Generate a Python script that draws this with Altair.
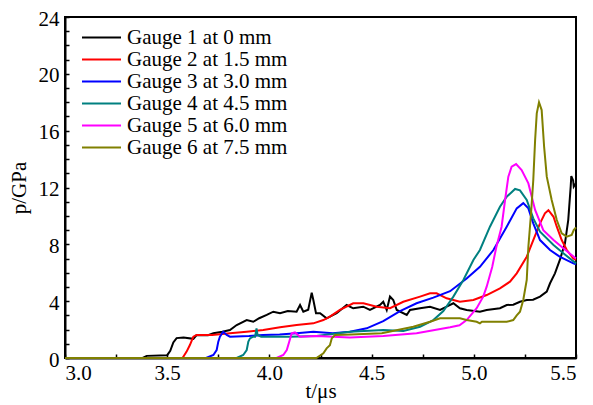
import altair as alt
import pandas as pd

labels = ["Gauge 1 at 0 mm", "Gauge 2 at 1.5 mm", "Gauge 3 at 3.0 mm",
          "Gauge 4 at 4.5 mm", "Gauge 5 at 6.0 mm", "Gauge 6 at 7.5 mm"]
colors = ["#000000", "#FF0000", "#0000FF", "#008080", "#FF00FF", "#808000"]

t1 = [3.0, 3.38, 3.40, 3.50, 3.515, 3.53, 3.546, 3.58, 3.628, 3.644, 3.70, 3.726, 3.77, 3.807,
      3.84, 3.889, 3.921, 3.95, 3.987, 4.019, 4.052, 4.09, 4.133, 4.15, 4.166, 4.19, 4.207, 4.215,
      4.228, 4.248, 4.28, 4.329, 4.378, 4.41, 4.459, 4.492, 4.541, 4.557, 4.574, 4.59, 4.606,
      4.623, 4.672, 4.688, 4.737, 4.786, 4.835, 4.867, 4.90, 4.932, 4.965, 5.03, 5.063, 5.128,
      5.161, 5.193, 5.226, 5.259, 5.29, 5.324, 5.357, 5.373, 5.397, 5.421, 5.446, 5.462, 5.474,
      5.477, 5.486, 5.489, 5.5]
p1 = [0, 0, 0.15, 0.2, 0.5, 1.1, 1.4, 1.45, 1.35, 1.62, 1.6, 1.74, 1.85, 1.97,
      2.32, 2.67, 2.55, 2.8, 3.03, 3.26, 3.15, 3.3, 3.26, 3.73, 3.26, 3.4, 4.6, 4.08,
      3.15, 3.15, 2.79, 3.15, 3.73, 3.5, 3.61, 3.38, 3.73, 3.96, 3.38, 4.32, 4.08,
      3.38, 3.03, 3.38, 3.5, 3.61, 3.38, 3.61, 3.85, 3.5, 3.38, 3.26, 3.38, 3.5,
      3.73, 3.75, 3.96, 4.08, 4.1, 4.32, 4.67, 5.26, 5.96, 6.9, 8.07, 9.71, 12.06,
      12.8, 12.5, 12.06, 12.3]

t2 = [3.0, 3.575, 3.595, 3.611, 3.628, 3.644, 3.72, 3.807, 3.889, 3.97, 4.052, 4.133, 4.215,
      4.264, 4.296, 4.345, 4.41, 4.46, 4.525, 4.59, 4.655, 4.737, 4.786, 4.818, 4.867, 4.932,
      4.998, 5.063, 5.128, 5.177, 5.21, 5.259, 5.291, 5.324, 5.348, 5.365, 5.39, 5.406, 5.43,
      5.455, 5.487, 5.5]
p2 = [0, 0, 0.45, 0.91, 1.5, 1.62, 1.62, 1.74, 1.85, 1.97, 2.16, 2.32, 2.44,
      2.67, 2.91, 3.38, 3.85, 3.85, 3.61, 3.5, 3.96, 4.32, 4.55, 4.55, 4.2, 3.96,
      4.08, 4.43, 4.9, 5.37, 5.96, 7.13, 8.3, 9.48, 10.18, 10.4, 9.94, 9.24, 8.3,
      7.6, 7.0, 6.9]

t3 = [3.0, 3.69, 3.726, 3.742, 3.75, 3.758, 3.774, 3.791, 3.807, 3.90, 3.97, 4.05, 4.133, 4.215,
      4.31, 4.394, 4.476, 4.557, 4.639, 4.72, 4.802, 4.884, 4.965, 5.03, 5.096, 5.161, 5.21,
      5.242, 5.267, 5.291, 5.324, 5.373, 5.42, 5.487, 5.5]
p3 = [0, 0, 0.21, 0.56, 1.15, 1.5, 1.85, 1.62, 1.5, 1.55, 1.62, 1.65, 1.74, 1.85,
      1.74, 1.85, 2.09, 2.6, 3.3, 3.85, 4.25, 4.7, 5.6, 6.42, 7.6, 9.24, 10.53,
      10.9, 10.53, 9.48, 8.3, 7.6, 7.13, 6.66, 6.6]

t4 = [3.0, 3.84, 3.872, 3.889, 3.897, 3.905, 3.921, 3.93, 3.937, 3.942, 3.96, 4.1, 4.23, 4.394,
      4.557, 4.655, 4.737, 4.802, 4.851, 4.9, 4.949, 4.998, 5.03, 5.079, 5.128, 5.161, 5.202,
      5.226, 5.259, 5.291, 5.324, 5.39, 5.438, 5.5]
p4 = [0, 0, 0.21, 0.56, 1.15, 1.38, 1.5, 1.5, 2.09, 1.62, 1.5, 1.5, 1.55, 1.85,
      1.97, 1.9, 2.2, 2.67, 3.3, 4.32, 5.49, 6.9, 7.6, 9.24, 10.65, 11.35, 11.9,
      11.8, 11.12, 9.83, 8.89, 7.95, 7.37, 6.66]

t5 = [3.0, 4.035, 4.068, 4.085, 4.097, 4.109, 4.125, 4.15, 4.23, 4.394, 4.557, 4.72, 4.884,
      4.93, 4.965, 5.014, 5.046, 5.063, 5.09, 5.11, 5.136, 5.153, 5.169, 5.185, 5.207, 5.234,
      5.267, 5.3, 5.34, 5.39, 5.438, 5.5]
p5 = [0, 0, 0.21, 0.56, 1.15, 1.74, 1.8, 1.5, 1.55, 1.45, 1.55, 1.74, 2.16,
      2.3, 2.67, 3.5, 4.32, 5.02, 6.4, 7.8, 9.24, 11.12, 12.76, 13.46, 13.65, 13.23,
      12.29, 10.42, 9.0, 8.3, 7.72, 7.0]

t6 = [3.0, 4.23, 4.264, 4.28, 4.296, 4.305, 4.321, 4.40, 4.55, 4.704, 4.786, 4.835, 4.932,
      4.965, 5.014, 5.03, 5.04, 5.161, 5.193, 5.21, 5.226, 5.242, 5.259, 5.267, 5.28, 5.291,
      5.3, 5.308, 5.319, 5.332, 5.344, 5.357, 5.381, 5.406, 5.43, 5.455, 5.479, 5.489, 5.5]
p6 = [0, 0, 0.33, 0.68, 0.9, 1.38, 1.62, 1.65, 1.74, 2.2, 2.55, 2.79, 2.79,
      2.67, 2.55, 2.44, 2.55, 2.55, 2.67, 3.0, 3.26, 4.08, 5.49, 7.83, 10.18, 12.53,
      15.34, 17.22, 18.0, 17.45, 14.87, 12.76, 11.12, 9.71, 8.78, 8.54, 8.66, 9.0, 9.2]

x_ticks = [3.0, 3.25, 3.5, 3.75, 4.0, 4.25, 4.5, 4.75, 5.0, 5.25, 5.5]
y_ticks = list(range(0, 25))

T = [t1, t2, t3, t4, t5, t6]
P = [p1, p2, p3, p4, p5, p6]
rows = []
for lab, ts, ps in zip(labels, T, P):
    for i, (t, p) in enumerate(zip(ts, ps)):
        rows.append({"gauge": lab, "t": t, "p": p, "i": i})
df = pd.DataFrame(rows)

W, H = 511, 341
FONT = "Times New Roman, Liberation Serif, serif"
xs = alt.Scale(domain=[3.0, 5.5], nice=False, zero=False)
ys = alt.Scale(domain=[0, 24], nice=False)

base = alt.Chart(df)

lines = base.mark_line(strokeWidth=2).encode(
    x=alt.X("t:Q", scale=xs, axis=alt.Axis(
        values=x_ticks, labelExpr="datum.value % 0.5 == 0 ? format(datum.value, '.1f') : ''",
        ticks=False, tickSize=0, grid=False, domainColor="black", domainWidth=2,
        labelFont=FONT, labelFontSize=21, labelColor="black",
        labelPadding=4, title="t/μs", titlePadding=-3,
        titleFont=FONT, titleFontSize=21, titleFontWeight="normal", titleColor="black")),
    y=alt.Y("p:Q", scale=ys, axis=alt.Axis(
        values=y_ticks, labelExpr="datum.value % 4 == 0 ? datum.label : ''",
        ticks=False, tickSize=0, grid=False, domainColor="black", domainWidth=2,
        labelFont=FONT, labelFontSize=21, labelColor="black", labelOffset=2,
        labelPadding=6, title="p/GPa", titlePadding=9,
        titleFont=FONT, titleFontSize=21, titleFontWeight="normal", titleColor="black")),
    color=alt.Color("gauge:N", scale=alt.Scale(domain=labels, range=colors),
                    legend=alt.Legend(title=None, orient="none", legendX=26, legendY=10,
                                      symbolType="M-3,0H3", symbolSize=169,
                                      symbolStrokeWidth=2, symbolFillColor="transparent",
                                      labelFont=FONT,
                                      labelFontSize=21, labelOffset=15, rowPadding=0,
                                      labelLimit=400, labelColor="black")),
    order="i:Q",
)

tick_layer = base.mark_point(opacity=0).encode(
    x=alt.X("t:Q", scale=xs, axis=alt.Axis(
        orient="top", offset=-H, values=x_ticks, labels=False, domain=False,
        ticks=True, tickSize=4, tickWidth=1.5, tickColor="black", grid=False, title=None)),
    y=alt.Y("p:Q", scale=ys, axis=alt.Axis(
        orient="right", offset=-W, values=y_ticks, labels=False, domain=False,
        ticks=True, tickSize=4, tickWidth=1.5, tickColor="black", grid=False, title=None)),
)

chart = (
    alt.layer(lines, tick_layer)
    .resolve_axis(x="independent", y="independent")
    .properties(width=W, height=H, autosize=alt.AutoSizeParams(type="none"),
                padding={"left": 57, "top": 9, "right": 9, "bottom": 50})
    .configure(font=FONT)
    .configure_view(stroke="black", strokeWidth=2)
)

chart.save("out.html", embed_options={"renderer": "svg", "actions": False})
